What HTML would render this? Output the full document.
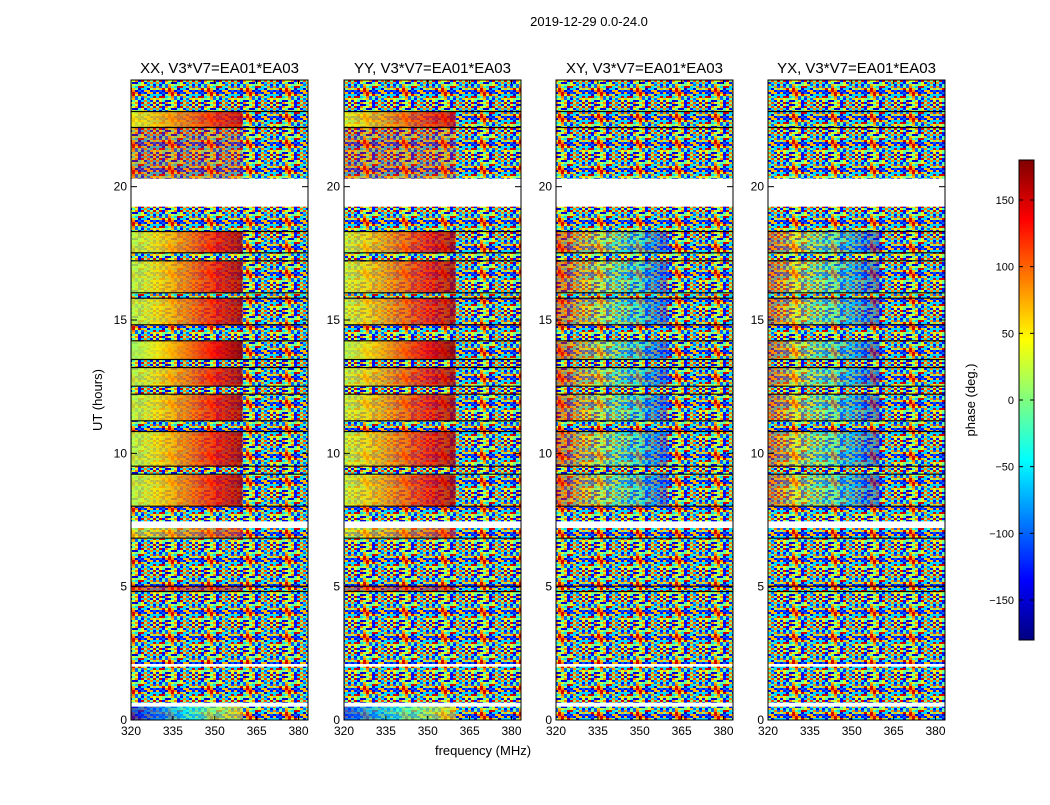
<!DOCTYPE html>
<html><head><meta charset="utf-8"><style>
body{margin:0;background:#fff;font-family:"Liberation Sans",sans-serif}
svg text{font-family:"Liberation Sans",sans-serif}
</style></head><body>
<svg id="c" width="1050" height="800" viewBox="0 0 1050 800">
<defs>
<linearGradient id="jetv" x1="0" y1="1" x2="0" y2="0">
<stop offset="0" stop-color="#000080"/><stop offset="0.125" stop-color="#0000ff"/><stop offset="0.375" stop-color="#00ffff"/><stop offset="0.625" stop-color="#ffff00"/><stop offset="0.875" stop-color="#ff0000"/><stop offset="1" stop-color="#800000"/>
</linearGradient>
<pattern id="noise" width="39" height="26" patternUnits="userSpaceOnUse"></pattern>
</defs>
<text x="589" y="26" font-size="13" text-anchor="middle">2019-12-29 0.0-24.0</text>
<text x="102" y="400" font-size="13" text-anchor="middle" transform="rotate(-90 102 400)">UT (hours)</text>
<text x="483" y="755" font-size="13" text-anchor="middle">frequency (MHz)</text>
<g id="panels"></g>
<g id="cbar"></g>
</svg>
<script>
// ---- data ----
const panelTitles = ["XX, V3*V7=EA01*EA03","YY, V3*V7=EA01*EA03","XY, V3*V7=EA01*EA03","YX, V3*V7=EA01*EA03"];
const bandStart = [0,0.5,0.65,2.0,2.1,4.8,5.0,6.8,7.2,7.45,8.0,9.2,9.5,10.8,11.2,12.2,12.5,13.2,13.5,14.2,14.8,15.8,16.0,17.2,17.5,18.3,19.25,20.3,22.2,22.8];
const bandEnd   = [0.5,0.65,2.0,2.1,4.8,5.0,6.8,7.2,7.45,8.0,9.2,9.5,10.8,11.2,12.2,12.5,13.2,13.5,14.2,14.8,15.8,16.0,17.2,17.5,18.3,19.25,20.3,22.2,22.8,24];
const flagged   = [0,1,0,1,0,0,0,0,1,0,0,0,0,0,0,0,0,0,0,0,0,0,0,0,0,0,1,0,0,0];
// phase at 320 MHz (L), phase at 360 MHz (M), noise level (N); null = pure noise
const xxL=[-150,null,null,null,null,120,null,40,null,null,20,null,20,null,20,null,20,null,10,null,20,null,20,null,20,null,null,120,40,null];
const xxM=[60,null,null,null,null,150,null,120,null,null,165,null,165,null,165,null,165,null,175,null,165,null,165,null,165,null,null,120,150,null];
const xxN=[0.35,1,1,1,1,0.5,1,0.4,1,1,0.2,1,0.2,1,0.2,1,0.2,1,0.1,1,0.2,1,0.2,1,0.2,1,1,0.7,0.2,1];
const yyL=[-120,null,null,null,null,120,null,40,null,null,30,null,30,null,30,null,30,null,20,null,30,null,30,null,30,null,null,120,40,null];
const yyM=[60,null,null,null,null,150,null,120,null,null,165,null,165,null,165,null,165,null,175,null,165,null,165,null,165,null,null,120,150,null];
const yyN=[0.35,1,1,1,1,0.5,1,0.4,1,1,0.25,1,0.25,1,0.25,1,0.25,1,0.15,1,0.25,1,0.25,1,0.25,1,1,0.7,0.25,1];
const xyL=[null,null,null,null,null,null,null,null,null,null,140,null,140,null,140,null,140,null,140,null,140,null,140,null,140,null,null,null,null,null];
const xyM=[null,null,null,null,null,null,null,null,null,null,-130,null,-130,null,-130,null,-130,null,-130,null,-130,null,-130,null,-130,null,null,null,null,null];
const xyN=[1,1,1,1,1,1,1,1,1,1,0.55,1,0.55,1,0.55,1,0.55,1,0.55,1,0.55,1,0.55,1,0.55,1,1,1,1,1];
const yxL=[null,null,null,null,null,null,null,null,null,null,120,null,120,null,120,null,120,null,120,null,120,null,120,null,120,null,null,null,null,null];
const yxM=[null,null,null,null,null,null,null,null,null,null,-140,null,-140,null,-140,null,-140,null,-140,null,-140,null,-140,null,-140,null,null,null,null,null];
const yxN=[1,1,1,1,1,1,1,1,1,1,0.55,1,0.55,1,0.55,1,0.55,1,0.55,1,0.55,1,0.55,1,0.55,1,1,1,1,1];
const panelL=[xxL,yyL,xyL,yxL], panelM=[xxM,yyM,xyM,yxM], panelN=[xxN,yyN,xyN,yxN];
const xTicks=[320,335,350,365,380];
const yTicks=[0,5,10,15,20];
const cbTicks=[-150,-100,-50,0,50,100,150];

// ---- helpers ----
const NS="http://www.w3.org/2000/svg";
function mk(t,a,p){const e=document.createElementNS(NS,t);for(const k in a)e.setAttribute(k,a[k]);if(p)p.appendChild(e);return e;}
function jet(v){const t=(v+180)/360;
 const r=Math.max(0,Math.min(1,Math.min(4*t-1.5,-4*t+4.5)));
 const g=Math.max(0,Math.min(1,Math.min(4*t-0.5,-4*t+3.5)));
 const b=Math.max(0,Math.min(1,Math.min(4*t+0.5,-4*t+2.5)));
 return `rgb(${Math.round(r*255)},${Math.round(g*255)},${Math.round(b*255)})`;}
// noise tile (styling texture)
const pat=document.getElementById('noise');
const pal=[-130,-100,-60,-20,30,70,110,150,-150,0,90];
for(let i=0;i<13;i++)for(let j=0;j<13;j++){
 mk('rect',{x:i*3,y:j*2,width:3,height:2,fill:jet(pal[(i*i*3+j*j*7+i*j*5+i+2*j)%11])},pat);}

const panelX=[131,344,556,768], PW=177, PT=80, PB=720;
const fMin=320,fMax=383.4,fSplit=360;
const sx=(f,x0)=>x0+(f-fMin)/(fMax-fMin)*PW;
const sy=h=>PB-(h/24)*(PB-PT);
const root=document.getElementById('panels');

panelX.forEach((x0,p)=>{
 const g=mk('g',{},root);
 
 
 const gid='gr'+p;
 const defs=document.querySelector('defs');
 for(let b=0;b<bandStart.length;b++){
  const y1=sy(bandEnd[b]), y2=sy(bandStart[b]), h=y2-y1;
  if(flagged[b]){continue;}
  const L=panelL[p][b], M=panelM[p][b], N=panelN[p][b];
  const xm=sx(fSplit,x0);
  if(L!==null){
   const lg=mk('linearGradient',{id:gid+'b'+b,x1:0,y1:0,x2:1,y2:0},defs);
   for(let k=0;k<=4;k++){mk('stop',{offset:k/4,'stop-color':jet(L+(M-L)*k/4)},lg);}
   const r=mk('rect',{x:x0,y:y1,width:xm-x0,height:h,fill:`url(#${gid}b${b})`},g);
   
   
   const n=mk('rect',{x:x0,y:y1,width:xm-x0,height:h,fill:'url(#noise)',opacity:N},g);
   
   
   const rr=mk('rect',{x:xm,y:y1,width:x0+PW-xm,height:h,fill:'url(#noise)'},g);
   
   
  } else {
   const r=mk('rect',{x:x0,y:y1,width:PW,height:h,fill:'url(#noise)'},g);
   
   
  }
  if(b>0&&!flagged[b-1]){mk('line',{x1:x0,x2:x0+PW,y1:y2-0.5,y2:y2-0.5,stroke:'#000','stroke-width':1.2},g);}
 }
 mk('rect',{x:x0,y:PT,width:PW,height:PB-PT,fill:'none',stroke:'#000','stroke-width':1},g);
 const t=mk('text',{x:x0+PW/2,y:73,'font-size':15,'text-anchor':'middle'},g);t.textContent=panelTitles[p];
 
 
 xTicks.forEach(f=>{const x=sx(f,x0);
  mk('line',{x1:x,x2:x,y1:PB,y2:PB-4,stroke:'#000'},g);mk('line',{x1:x,x2:x,y1:PT,y2:PT+4,stroke:'#000'},g);
  const l=mk('text',{x:x,y:PB+15,'font-size':12,'text-anchor':'middle'},g);l.textContent=f;
  
  });
 yTicks.forEach(v=>{const y=sy(v);
  mk('line',{x1:x0,x2:x0+6,y1:y,y2:y,stroke:'#000'},g);mk('line',{x1:x0+PW,x2:x0+PW-6,y1:y,y2:y,stroke:'#000'},g);
  const l=mk('text',{x:x0-4,y:y+4,'font-size':12,'text-anchor':'end'},g);l.textContent=v;
  
  });
});

// colorbar
const cb=document.getElementById('cbar');
const CX=1019,CW=15,CT=160,CB=640;
const cy=v=>CB-(v+180)/360*(CB-CT);
const bar=mk('rect',{x:CX,y:CT,width:CW,height:CB-CT,fill:'url(#jetv)',stroke:'#000'},cb);


cbTicks.forEach(v=>{const y=cy(v);
 mk('line',{x1:CX,x2:CX+4,y1:y,y2:y,stroke:'#000'},cb);mk('line',{x1:CX+CW,x2:CX+CW-4,y1:y,y2:y,stroke:'#000'},cb);
 const l=mk('text',{x:CX-5,y:y+4,'font-size':11,'text-anchor':'end'},cb);l.textContent=v<0?'\u2212'+(-v):v;
 
 });
const cl=mk('text',{x:975,y:400,'font-size':13,'text-anchor':'middle',transform:'rotate(-90 975 400)'},cb);
cl.textContent='phase (deg.)';


</script>
</body></html>
